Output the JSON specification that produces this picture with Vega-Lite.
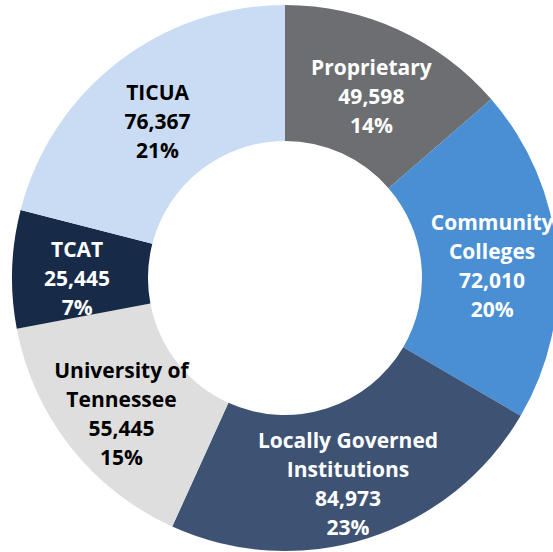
{
  "$schema": "https://vega.github.io/schema/vega-lite/v6.json",
  "autosize": "none",
  "width": 570,
  "height": 556,
  "padding": 0,
  "background": "white",
  "data": {
    "values": [
      {"rank": 1, "name": "Proprietary", "value": 49598, "label": "Proprietary\n49,598\n14%"},
      {"rank": 2, "name": "Community Colleges", "value": 72010, "label": "Community\nColleges\n72,010\n20%"},
      {"rank": 3, "name": "Locally Governed Institutions", "value": 84973, "label": "Locally Governed\nInstitutions\n84,973\n23%"},
      {"rank": 4, "name": "University of Tennessee", "value": 55445, "label": "University of\nTennessee\n55,445\n15%"},
      {"rank": 5, "name": "TCAT", "value": 25445, "label": "TCAT\n25,445\n7%"},
      {"rank": 6, "name": "TICUA", "value": 76367, "label": "TICUA\n76,367\n21%"}
    ]
  },
  "encoding": {
    "theta": {"field": "value", "type": "quantitative", "stack": true},
    "order": {"field": "rank", "type": "quantitative"}
  },
  "layer": [
    {
      "mark": {"type": "arc", "outerRadius": 273, "innerRadius": 137},
      "encoding": {
        "color": {
          "field": "name",
          "type": "nominal",
          "legend": null,
          "scale": {
            "domain": ["Proprietary", "Community Colleges", "Locally Governed Institutions", "University of Tennessee", "TCAT", "TICUA"],
            "range": ["#6d6e71", "#4a8fd4", "#3e5373", "#dedede", "#172a47", "#c9dcf3"]
          }
        }
      }
    },
    {
      "mark": {
        "type": "text",
        "radius": 208,
        "dy": {"expr": "-(length(split(datum.label, '\\n')) - 1) * 14.5 + 9"},
        "font": "Open Sans",
        "fontWeight": "bold",
        "fontSize": 21,
        "lineHeight": 29,
        "lineBreak": "\n",
        "align": "center",
        "baseline": "middle"
      },
      "encoding": {
        "text": {"field": "label"},
        "color": {
          "condition": {"test": "datum.name === 'TICUA' || datum.name === 'University of Tennessee'", "value": "#000000"},
          "value": "#ffffff"
        }
      }
    }
  ]
}
